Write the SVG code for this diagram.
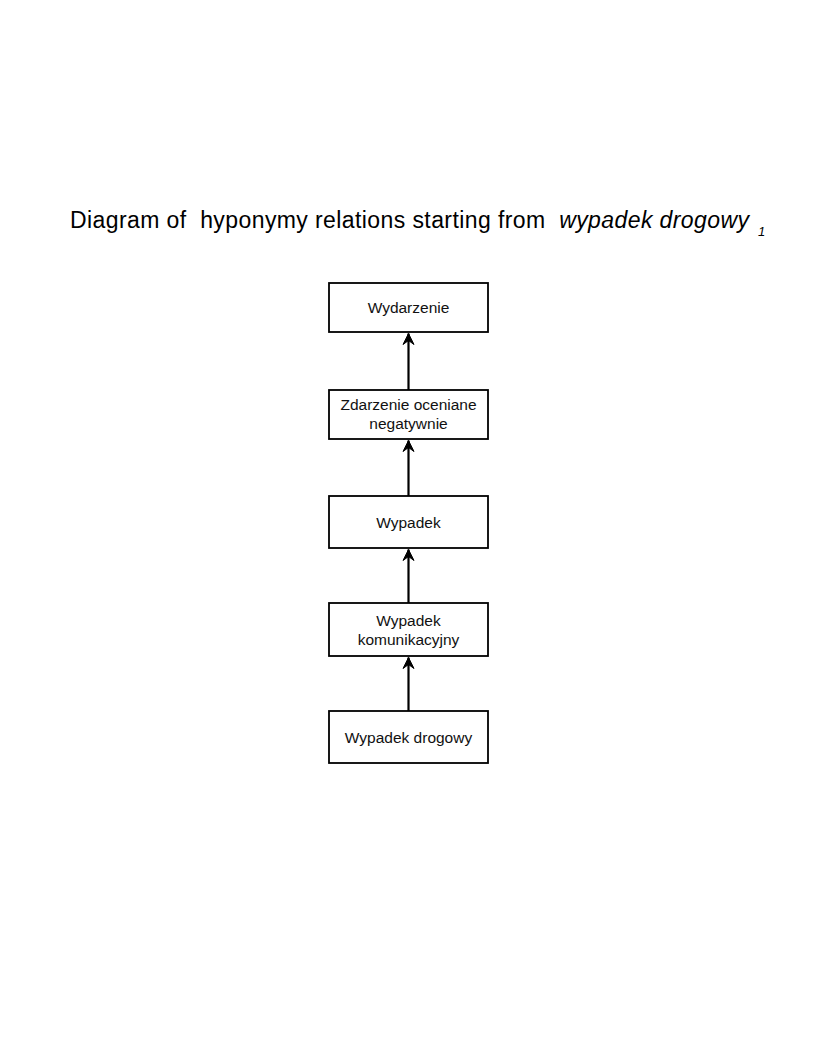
<svg xmlns="http://www.w3.org/2000/svg" width="817" height="1057" viewBox="0 0 817 1057">
<style>
.box{fill:#fff;stroke:#000;stroke-width:1.8}
.lbl{font-family:"Liberation Sans",Arial,sans-serif;font-size:15.5px;fill:#111;text-anchor:middle}
.title{font-family:"Liberation Sans",Arial,sans-serif;font-size:23px;fill:#000}
.sub{font-family:"Liberation Sans",Arial,sans-serif;font-size:13px;font-style:italic;fill:#000}
.edge{stroke:#000;stroke-width:2.2;fill:none}
</style>
<defs>
<marker id="arr" markerWidth="14" markerHeight="14" refX="11" refY="6" orient="auto" markerUnits="userSpaceOnUse" viewBox="0 0 14 12">
<path d="M0,0.5 L11,6 L0,11.5 L4,6 Z" fill="#000" stroke="#000" stroke-width="1" stroke-linejoin="round"/>
</marker>
</defs>
<rect width="817" height="1057" fill="#fff"/>
<text class="title" x="70" y="228" textLength="679" xml:space="preserve">Diagram of  hyponymy relations starting from  <tspan font-style="italic">wypadek drogowy</tspan></text>
<text class="sub" x="758" y="236">1</text>
<g id="connectors">
<line class="edge" x1="408.5" y1="390" x2="408.5" y2="333.5" marker-end="url(#arr)"/>
<line class="edge" x1="408.5" y1="496" x2="408.5" y2="440.5" marker-end="url(#arr)"/>
<line class="edge" x1="408.5" y1="603" x2="408.5" y2="549.5" marker-end="url(#arr)"/>
<line class="edge" x1="408.5" y1="711" x2="408.5" y2="657.5" marker-end="url(#arr)"/>
</g>
<g id="n1"><rect class="box" x="329" y="283" width="159" height="49"/><text class="lbl" x="408.5" y="313">Wydarzenie</text></g>
<g id="n2"><rect class="box" x="329" y="390" width="159" height="49"/><text class="lbl" x="408.5" y="410">Zdarzenie oceniane</text><text class="lbl" x="408.5" y="429">negatywnie</text></g>
<g id="n3"><rect class="box" x="329" y="496" width="159" height="52"/><text class="lbl" x="408.5" y="528">Wypadek</text></g>
<g id="n4"><rect class="box" x="329" y="603" width="159" height="53"/><text class="lbl" x="408.5" y="626">Wypadek</text><text class="lbl" x="408.5" y="645">komunikacyjny</text></g>
<g id="n5"><rect class="box" x="329" y="711" width="159" height="52"/><text class="lbl" x="408.5" y="743">Wypadek drogowy</text></g>
</svg>
